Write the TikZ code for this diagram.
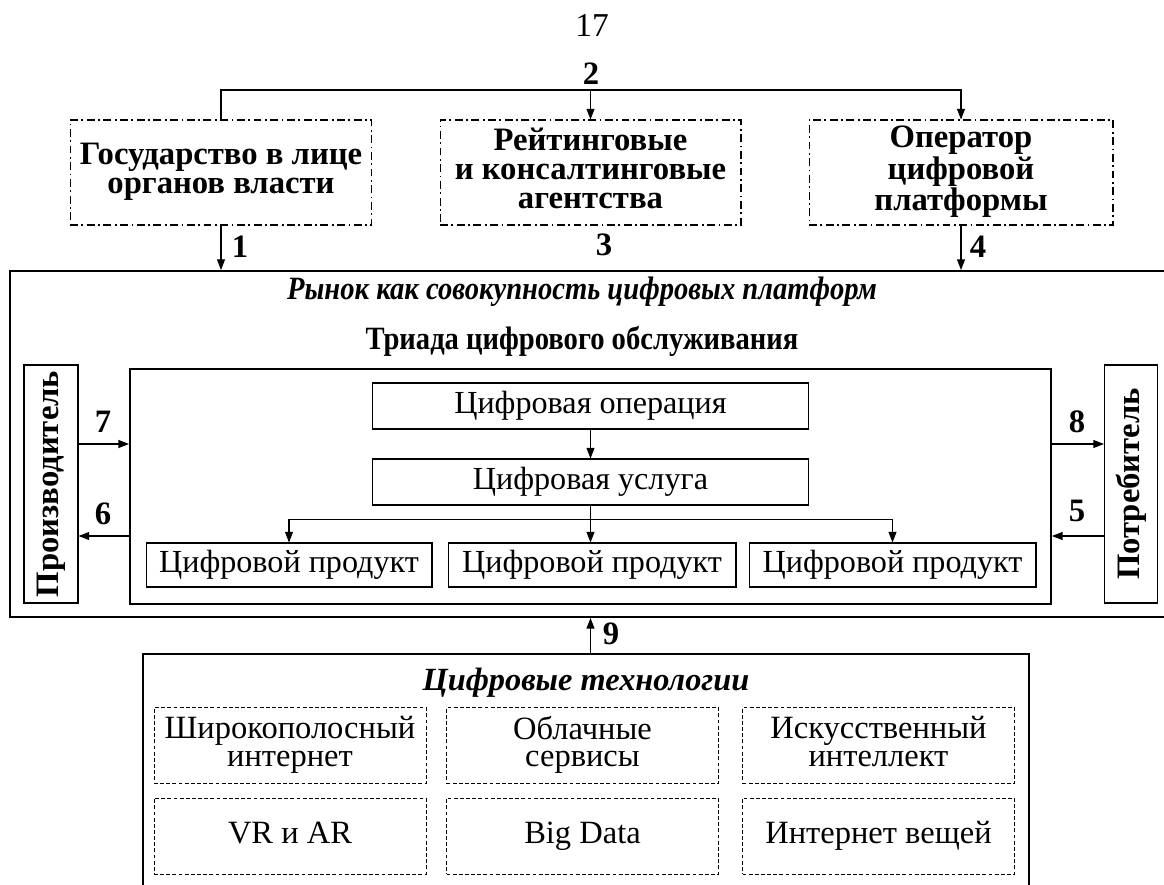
\documentclass[tikz,border=0pt]{standalone}
\usepackage{fontspec}
\setmainfont{Liberation Serif}
\newfontfamily\narrowfont{Liberation Serif}[FakeStretch=0.88]
\usetikzlibrary{arrows.meta}

\newcommand\szf{\fontsize{18.3}{16.2}\selectfont}
\newcommand\szb{\fontsize{18.6}{16.4}\selectfont}
\newcommand\tstrut{\rule[-4.5pt]{0pt}{17.5pt}}

\tikzset{
  arr/.style={-{Triangle[length=6pt,width=4.5pt]}},
  txt/.style={execute at begin node=\tstrut, execute at end node=\tstrut},
  topbox/.style={draw, line width=0.6pt, dash pattern=on 4.5pt off 2pt on 1pt off 2pt,
    font=\szb\bfseries, align=center, inner sep=0pt, minimum height=2.1cm, txt},
  thinbox/.style={draw, line width=0.6pt, inner sep=0pt, font=\szf, txt},
  bigbox/.style={draw, line width=1.2pt, inner sep=0pt},
  techbox/.style={draw, line width=0.5pt, dash pattern=on 2.2pt off 1.3pt,
    font=\fontsize{18.5}{15.6}\selectfont, align=center, inner sep=0pt,
    minimum width=5.44cm, minimum height=1.52cm, txt},
  num/.style={font=\szb\bfseries},
  title/.style={font=\narrowfont\fontsize{18.5}{18}\selectfont\bfseries},
  ititle/.style={font=\narrowfont\fontsize{18.5}{18}\selectfont\bfseries\itshape},
}

\begin{document}
\begin{tikzpicture}[x=0.02cm, y=-0.02cm, line width=0.6pt]
\useasboundingbox (0,0) rectangle (1164,885);
\clip (0,0) rectangle (1164,885);

\node[font=\fontsize{19}{19}\selectfont] (page) at (592,25) {17};

% participants
\node[topbox, minimum width=6.04cm] (gov) at (221,172.5) {Государство в лице\\органов власти};
\node[topbox, minimum width=6.02cm] (rate) at (590.5,172.5) {Рейтинговые\\и консалтинговые\\агентства};
\node[topbox, minimum width=6.08cm] (oper) at (961,172.5) {Оператор\\цифровой\\платформы};

\coordinate (c2) at (590.5,90);
\draw[arr] (gov.north) |- (c2) -| (oper.north);
\draw[arr] (c2) -- (rate.north);
\node[num] (n2) at (591,74) {2};

% market
\node[bigbox, minimum width=23.4cm, minimum height=6.92cm] (market) at (595,444) {};
\node[ititle] (mtitle) at (582,292) {Рынок как совокупность цифровых платформ};
\node[title] (ttitle) at (582,341) {Триада цифрового обслуживания};

\draw[arr] (gov.south) -- (gov.south |- market.north);
\draw[arr] (oper.south) -- (oper.south |- market.north);
\node[num] (n1) at (240,247) {1};
\node[num] (n3) at (604,245) {3};
\node[num] (n4) at (978,247) {4};

% triad
\node[bigbox, minimum width=18.42cm, minimum height=4.7cm] (triad) at (590.5,486.5) {};
\node[thinbox, minimum width=8.74cm, minimum height=0.92cm] (op) at (590.5,406) {Цифровая операция};
\node[thinbox, minimum width=8.74cm, minimum height=0.92cm] (svc) at (590.5,482) {Цифровая услуга};
\node[thinbox, minimum width=5.72cm, minimum height=0.88cm] (p1) at (289,565) {Цифровой продукт};
\node[thinbox, minimum width=5.76cm, minimum height=0.88cm] (p2) at (592,565) {Цифровой продукт};
\node[thinbox, minimum width=5.74cm, minimum height=0.88cm] (p3) at (892.5,565) {Цифровой продукт};

\draw[arr] (op) -- (svc);
\draw (svc.south) -- ++(0,14) coordinate (br);
\draw[arr] (br) -- (br |- p2.north);
\draw[arr] (br) -| (p1.north);
\draw[arr] (br) -| (p3.north);

% sides
\node[thinbox, minimum width=1.08cm, minimum height=4.76cm] (prod) at (51,484) {};
\node[rotate=90, font=\szb\bfseries] at (prod) {Производитель};
\node[thinbox, minimum width=1.06cm, minimum height=4.76cm] (cons) at (1131,484) {};
\node[rotate=90, font=\szb\bfseries] at (cons) {Потребитель};

\coordinate (yin) at (0,444);
\coordinate (yout) at (0,536);
\draw[arr] (prod.east |- yin) -- (triad.west |- yin);
\draw[arr] (triad.west |- yout) -- (prod.east |- yout);
\draw[arr] (triad.east |- yin) -- (cons.west |- yin);
\draw[arr] (cons.west |- yout) -- (triad.east |- yout);
\node[num] (n7) at (103,422) {7};
\node[num] (n6) at (103,514) {6};
\node[num] (n8) at (1077,422) {8};
\node[num] (n5) at (1077,511) {5};

% technologies
\node[bigbox, minimum width=17.72cm, minimum height=5cm, anchor=north] (tech) at (586,653) {};
\node[font=\fontsize{18.4}{18}\selectfont\bfseries\itshape] (ttech) at (586,683) {Цифровые технологии};
\draw[arr] (triad |- tech.north) -- (triad |- market.south);
\node[num] (n9) at (611,634) {9};

\node[techbox] (t1) at (290,745.5) {Широкополосный\\интернет};
\node[techbox] (t2) at (582.5,745.5) {Облачные\\сервисы};
\node[techbox] (t3) at (878.5,745.5) {Искусственный\\интеллект};
\node[techbox] (t4) at (290,836) {VR и AR};
\node[techbox] (t5) at (582.5,836) {Big Data};
\node[techbox] (t6) at (878.5,836) {Интернет вещей};
\end{tikzpicture}
\end{document}
